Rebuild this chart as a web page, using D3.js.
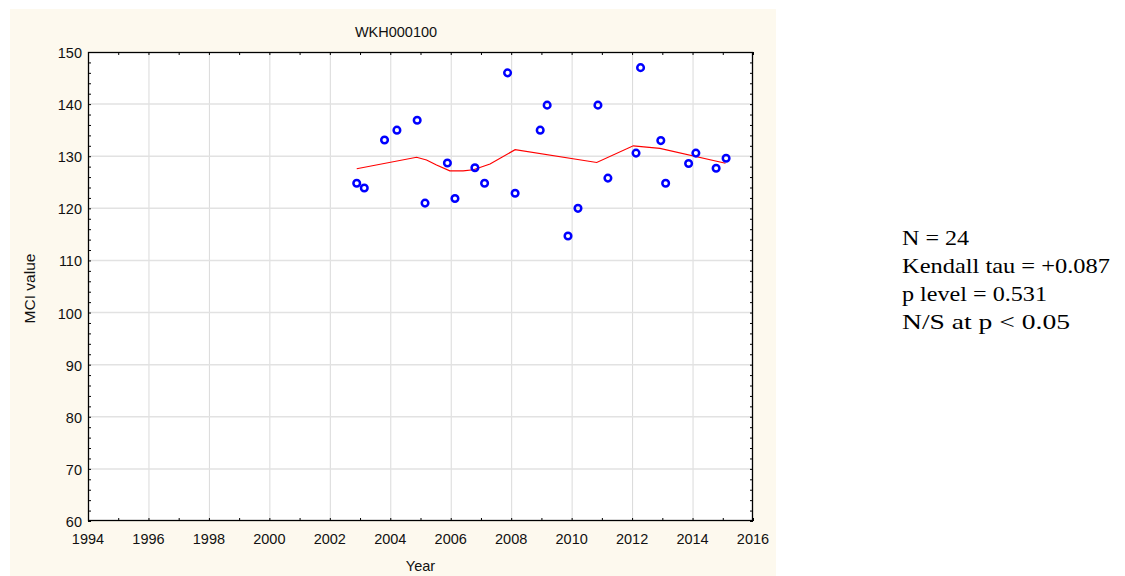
<!DOCTYPE html>
<html><head><meta charset="utf-8">
<script src="https://cdn.jsdelivr.net/npm/d3@7"></script>
<style>body{margin:0;background:#fff;} svg{display:block;}</style>
</head><body>
<svg id="chart" width="1125" height="576"></svg>
<script>
const title = "WKH000100";
const xLabel = "Year";
const yLabel = "MCI value";
const xTicks = [1994,1996,1998,2000,2002,2004,2006,2008,2010,2012,2014,2016];
const yTicks = [60,70,80,90,100,110,120,130,140,150];
const years = [2002.89,2003.14,2003.81,2004.22,2004.89,2005.15,2005.89,2006.14,2006.80,2007.12,2007.88,2008.13,2008.96,2009.19,2009.88,2010.21,2010.87,2011.20,2012.13,2012.28,2012.95,2013.11,2013.87,2014.11,2014.78,2015.11];
const mci = [124.8,123.9,133.1,135.0,136.9,121.0,128.7,121.9,127.8,124.8,146.0,122.9,135.0,139.8,114.7,120.0,139.8,125.8,130.6,147.0,133.0,124.8,128.6,130.6,127.7,129.6];
const trendYears = [2002.89,2004.87,2005.20,2005.53,2005.97,2006.41,2006.75,2007.30,2008.13,2010.83,2012.04,2012.92,2015.09];
const trendValues = [127.6,129.8,129.27,128.3,127.2,127.2,127.4,128.5,131.25,128.8,132.0,131.5,128.65];
const statsLines = ["N = 24","Kendall tau = +0.087","p level = 0.531","N/S at p < 0.05"];

const svg = d3.select("#chart");
const L = 88, R = 753, T = 52, B = 521;
const x = d3.scaleLinear().domain([1994,2016]).range([L,R]);
const y = d3.scaleLinear().domain([60,150]).range([B,T]);

// panel
svg.append("rect").attr("x",10).attr("y",9).attr("width",766).attr("height",567).attr("fill","#fdf9ee");
svg.append("rect").attr("x",L).attr("y",T).attr("width",R-L).attr("height",B-T).attr("fill","#fff");

// grid
const g = svg.append("g");
g.selectAll(".vg").data(xTicks.slice(1,-1)).enter().append("line")
  .attr("x1",d=>x(d)+0.5).attr("x2",d=>x(d)+0.5).attr("y1",T).attr("y2",B)
  .attr("stroke","#dadada").attr("stroke-width",1);
g.selectAll(".hg").data(yTicks.slice(1,-1)).enter().append("line")
  .attr("y1",d=>y(d)).attr("y2",d=>y(d)).attr("x1",L).attr("x2",R)
  .attr("stroke","#e2e2e2").attr("stroke-width",1.5);

// axes with inward ticks
const xMinor = d3.range(1994,2017,1);
const yMinor = d3.range(60,151,2);
const fontAx = "Liberation Sans, Arial, sans-serif";
function styleAxis(sel){ sel.select(".domain").remove(); sel.selectAll("line").attr("stroke","#000"); sel.selectAll("text").remove(); }
svg.append("g").attr("transform",`translate(0,${B})`).call(d3.axisBottom(x).tickValues(xMinor).tickSize(-3)).call(styleAxis);
svg.append("g").attr("transform",`translate(0,${T})`).call(d3.axisTop(x).tickValues(xMinor).tickSize(-3)).call(styleAxis);
svg.append("g").attr("transform",`translate(${L},0)`).call(d3.axisLeft(y).tickValues(yMinor).tickSize(-3)).call(styleAxis);
svg.append("g").attr("transform",`translate(${R},0)`).call(d3.axisRight(y).tickValues(yMinor).tickSize(-3)).call(styleAxis);
svg.append("rect").attr("x",L+0.5).attr("y",T+0.5).attr("width",R-L-1).attr("height",B-T-1)
  .attr("fill","none").attr("stroke","#000").attr("stroke-width",1.3);

// tick labels
svg.selectAll(".xl").data(xTicks).enter().append("text")
  .attr("x",d=>x(d)).attr("y",544).attr("text-anchor","middle")
  .attr("font-family",fontAx).attr("font-size",14.5).attr("fill","#111").text(d=>d);
svg.selectAll(".yl").data(yTicks).enter().append("text")
  .attr("x",82).attr("y",d=>y(d)+6).attr("text-anchor","end")
  .attr("font-family",fontAx).attr("font-size",14.5).attr("fill","#111").text(d=>d);

// titles
svg.append("text").attr("x",396).attr("y",37).attr("text-anchor","middle")
  .attr("font-family",fontAx).attr("font-size",14.5).attr("fill","#111").text(title);
svg.append("text").attr("x",(L+R)/2).attr("y",571).attr("text-anchor","middle")
  .attr("font-family",fontAx).attr("font-size",14.5).attr("fill","#111").text(xLabel);
svg.append("text").attr("transform",`translate(35,${(T+B)/2+2}) rotate(-90)`).attr("text-anchor","middle")
  .attr("font-family",fontAx).attr("font-size",15.5).attr("fill","#111").text(yLabel);

// trend line
const line = d3.line().x(d=>x(d[0])).y(d=>y(d[1]));
svg.append("path").datum(trendYears.map((d,i)=>[d,trendValues[i]]))
  .attr("d",line).attr("fill","none").attr("stroke","#ff0000").attr("stroke-width",1.2);

// points
svg.selectAll(".pt").data(years.map((d,i)=>[d,mci[i]])).enter().append("circle")
  .attr("cx",d=>x(d[0])).attr("cy",d=>y(d[1])).attr("r",3.3)
  .attr("fill","none").attr("stroke","#0000ff").attr("stroke-width",2.5);

// stats text
const widths = [67,208,145,168];
svg.selectAll(".st").data(statsLines).enter().append("text")
  .attr("x",902).attr("y",(d,i)=>245+i*28)
  .attr("font-family","Liberation Serif, Times New Roman, serif").attr("font-size",21)
  .attr("fill","#000")
  .attr("textLength",(d,i)=>widths[i]).attr("lengthAdjust","spacingAndGlyphs")
  .text(d=>d);
</script>
</body></html>
